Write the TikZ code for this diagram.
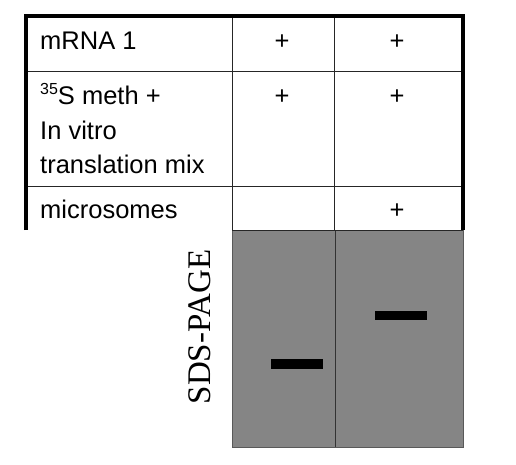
\documentclass[tikz,border=0pt]{standalone}
\usepackage{fontspec}
\setmainfont{Liberation Serif}
\setsansfont{Liberation Sans}
\usetikzlibrary{positioning}
\definecolor{gelgray}{RGB}{133,133,133}
\def\tabfont{\sffamily\fontsize{25.5}{25.5}\selectfont}

\begin{document}
\begin{tikzpicture}[x=1pt,y=-1pt,
    every node/.style={inner sep=0pt},
    label/.style={anchor=base west,font=\tabfont},
    plus/.style={anchor=base,font=\tabfont},
    band/.style={fill=black,minimum width=52pt,minimum height=9.5pt}]
  \useasboundingbox (0,0) rectangle (516,465);

  % gel
  \fill[gelgray,draw=black!65,line width=1pt] (232,230) rectangle (463,447);
  \draw[black!80,line width=1pt] (335,230) -- (335,447);
  \node[band] (band1) at (297,364) {};
  \node[band] (band2) at (400.5,315.5) {};
  \node[rotate=90,font=\rmfamily\fontsize{33}{33}\selectfont] (sds) at (200,327) {SDS-PAGE};

  % table
  \draw[black!85,line width=1pt] (28,72) -- (461,72) (28,186) -- (461,186)
    (232,16) -- (232,230) (334,16) -- (334,230) (232,230) -- (463,230);
  \draw[line width=4pt] (26,230) -- (26,16) -- (463,16) -- (463,230);

  \node[label] (mrna) at (40,50) {mRNA 1};
  \node[label] (meth) at (40,105) {\raisebox{0.4em}{\fontsize{16}{16}\selectfont 35}S meth +};
  \node[label] (vitro) at (40,140) {In vitro};
  \node[label] (mix) at (40,173) {translation mix};
  \node[label] (micro) at (40,218) {microsomes};

  \foreach \x/\y [count=\i] in {282/50,397/50,282/105,397/105,397/218}{
    \node[plus] (p\i) at (\x,\y) {+};
  }
\end{tikzpicture}
\end{document}
